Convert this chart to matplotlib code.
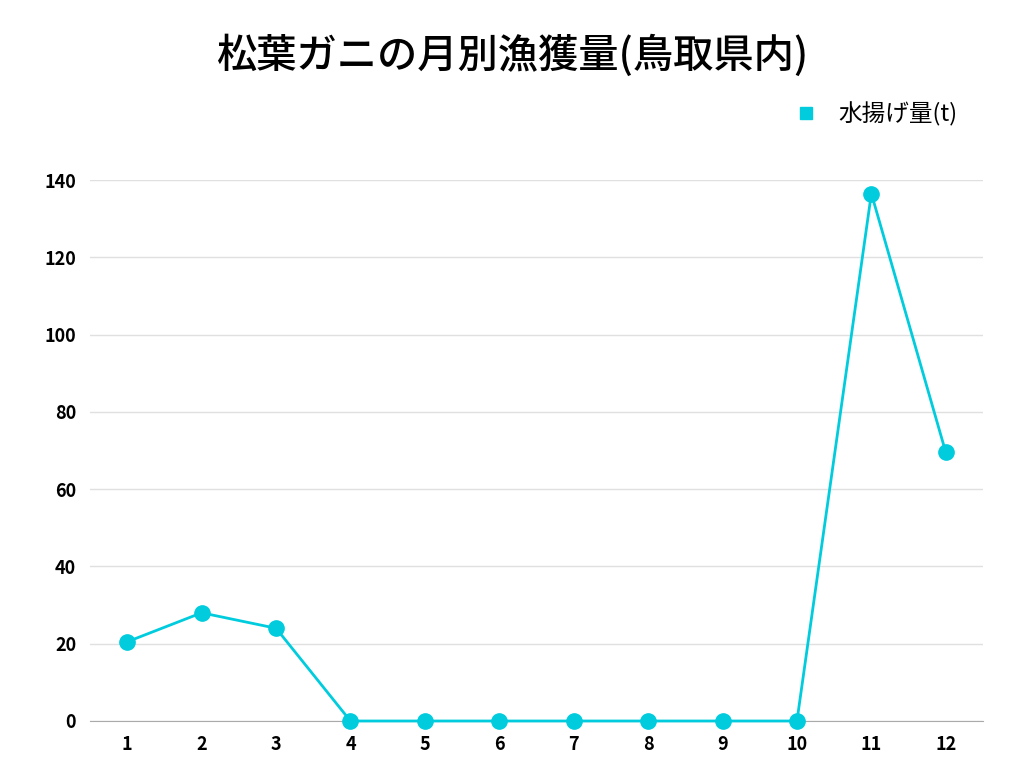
import matplotlib
matplotlib.use("Agg")
import matplotlib.pyplot as plt

months = ["1", "2", "3", "4", "5", "6", "7", "8", "9", "10", "11", "12"]
catch_t = [20.5, 28, 24, 0, 0, 0, 0, 0, 0, 0, 136.5, 69.5]
yticks = [0, 20, 40, 60, 80, 100, 120, 140]

COLOR = "#00CCDD"
plt.rcParams["font.family"] = ["Noto Sans CJK JP", "DejaVu Sans"]

fig = plt.figure(figsize=(10.24, 7.68), dpi=100)
ax = fig.add_axes([90 / 1024, 1 - 721 / 768, 893 / 1024, 541 / 768])

x = list(range(1, len(months) + 1))
ax.plot(x, catch_t, "-o", color=COLOR, lw=2, ms=11, label="水揚げ量(t)", clip_on=False, zorder=3)

ax.set_xlim(0.5, 12.5)
ax.set_ylim(0, 140)
ax.set_xticks(x)
ax.set_xticklabels(months)
ax.set_yticks(yticks)
for lbl in ax.get_xticklabels() + ax.get_yticklabels():
    lbl.set_fontweight("bold")
    lbl.set_fontsize(13)
ax.tick_params(length=0, pad=10)
ax.grid(axis="y", color="#E0E0E0", lw=1)
ax.set_axisbelow(True)
for s in ["top", "right", "left"]:
    ax.spines[s].set_visible(False)
ax.spines["bottom"].set_color("#AAAAAA")

leg = ax.legend(loc="lower right", bbox_to_anchor=(0.995, 1.06), frameon=False,
                fontsize=17, handlelength=0.7, handletextpad=1.0, markerscale=0.85)
for h in leg.legend_handles:
    h.set_linestyle("")
    h.set_marker("s")

fig.suptitle("松葉ガニの月別漁獲量(鳥取県内)", y=0.955, fontsize=29, fontweight="medium")
fig.savefig("out.png", dpi=100)
